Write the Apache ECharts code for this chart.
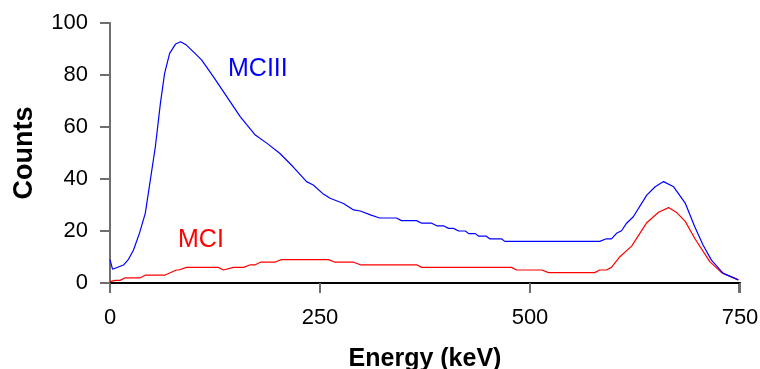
<!DOCTYPE html>
<html>
<head>
<meta charset="utf-8">
<script src="https://cdn.jsdelivr.net/npm/echarts@6/dist/echarts.min.js"></script>
<style>html,body{margin:0;padding:0;background:#fff}#c{width:760px;height:369px}</style>
</head>
<body>
<div id="c"></div>
<script>
const xTicks = [0, 250, 500, 750];
const yTicks = [0, 20, 40, 60, 80, 100];

const mc3Energy = [0, 3, 16, 22, 28, 35, 42, 48, 54, 60, 65, 71, 78, 84, 91, 99, 109, 123, 139, 155, 163, 173, 187, 202, 218, 234, 242, 254, 262, 278, 290, 298, 310, 321, 341, 347, 365, 371, 383, 389, 397, 403, 409, 415, 423, 427, 435, 439, 448, 452, 466, 470, 583, 591, 597, 603, 609, 615, 623, 639, 649, 659, 671, 685, 696, 706, 716, 730, 748];
const mc3Counts = [9, 5.3, 6.9, 9.1, 12.7, 19.1, 26.8, 39.6, 52.4, 69.1, 80.6, 88.3, 91.9, 92.8, 91.5, 89, 85.8, 79.4, 71.7, 64, 60.8, 56.9, 53.7, 49.9, 44.7, 39, 37.7, 34.2, 32.6, 30.6, 28.1, 27.7, 26.2, 25, 25, 24, 24, 23, 23, 22, 22, 21, 21, 20, 20, 19, 19, 18, 18, 17, 17, 16, 16, 17, 17, 19.1, 20.1, 23, 25.5, 33.8, 37, 39, 37, 30.6, 21.7, 14.6, 8.8, 3.7, 1.2];

const mc1Energy = [0, 6, 12, 18, 36, 42, 65, 79, 82, 91, 129, 135, 147, 159, 167, 173, 179, 196, 204, 260, 268, 290, 298, 365, 371, 478, 484, 514, 522, 577, 583, 591, 597, 607, 621, 639, 653, 665, 675, 685, 696, 714, 728, 748];
const mc1Counts = [0.5, 1, 1, 2, 2, 3, 3, 5, 5, 6, 6, 5, 6, 6, 7, 7, 8, 8, 9, 9, 8, 8, 7, 7, 6, 6, 5, 5, 4, 4, 5, 5, 6, 10.1, 14.2, 23.2, 27.2, 29, 27, 23.6, 17.2, 8.2, 4, 1.2];

const seriesNames = ['MCIII', 'MCI'];
const xTitle = 'Energy (keV)';
const yTitle = 'Counts';

const zip = (a, b) => a.map((v, i) => [v, b[i]]);

const chart = echarts.init(document.getElementById('c'), null, {renderer: 'canvas'});
const font = 'Liberation Sans, Arial, sans-serif';
const axisGray = '#6e6e6e';
chart.setOption({
  animation: false,
  backgroundColor: '#ffffff',
  grid: {left: 110, right: 20, top: 23, bottom: 86, show: false, containLabel: false, outerBoundsMode: 'none'},
  xAxis: [{
    type: 'value', min: 0, max: 750, interval: 250,
    name: xTitle, nameLocation: 'middle', nameGap: 64,
    nameTextStyle: {fontFamily: font, fontWeight: 'bold', fontSize: 25, color: '#000'},
    axisLine: {show: true, onZero: false, lineStyle: {color: axisGray, width: 2}},
    axisTick: {show: true, inside: false, length: 10, lineStyle: {color: axisGray, width: 2}},
    axisLabel: {margin: 24, fontFamily: font, fontSize: 22, color: '#000',
      formatter: v => xTicks.includes(v) ? String(v) : ''},
    splitLine: {show: false}
  }, {
    type: 'value', position: 'top', min: 0, max: 750,
    axisLine: {show: true, lineStyle: {color: '#000', width: 2}},
    axisTick: {show: false}, axisLabel: {show: false}, splitLine: {show: false}
  }],
  yAxis: [{
    type: 'value', min: 0, max: 100, interval: 20,
    name: yTitle, nameLocation: 'middle', nameGap: 72,
    nameTextStyle: {fontFamily: font, fontWeight: 'bold', fontSize: 27, color: '#000'},
    axisLine: {show: true, onZero: false, lineStyle: {color: axisGray, width: 2}},
    axisTick: {show: true, inside: false, length: 10, lineStyle: {color: axisGray, width: 2}},
    axisLabel: {margin: 22, fontFamily: font, fontSize: 22, color: '#000',
      formatter: v => yTicks.includes(v) ? String(v) : ''},
    splitLine: {show: false}
  }, {
    type: 'value', position: 'right', min: 0, max: 100,
    axisLine: {show: true, lineStyle: {color: axisGray, width: 2}},
    axisTick: {show: false}, axisLabel: {show: false}, splitLine: {show: false}
  }],
  series: [{
    name: seriesNames[0], type: 'line', data: zip(mc3Energy, mc3Counts),
    showSymbol: false, lineStyle: {color: '#0000ff', width: 1.2}, z: 3
  }, {
    name: seriesNames[1], type: 'line', data: zip(mc1Energy, mc1Counts),
    showSymbol: false, lineStyle: {color: '#ff0000', width: 1.2}, z: 2
  }],
  graphic: [{
    type: 'text', left: 228, top: 57,
    style: {text: seriesNames[0], fill: '#0000ff', font: '25px ' + font}
  }, {
    type: 'text', left: 178, top: 228,
    style: {text: seriesNames[1], fill: '#ff0000', font: '25px ' + font}
  }, {
    type: 'line', shape: {x1: 739, y1: 283, x2: 739, y2: 293},
    style: {stroke: axisGray, lineWidth: 2}
  }]
});
</script>
</body>
</html>
